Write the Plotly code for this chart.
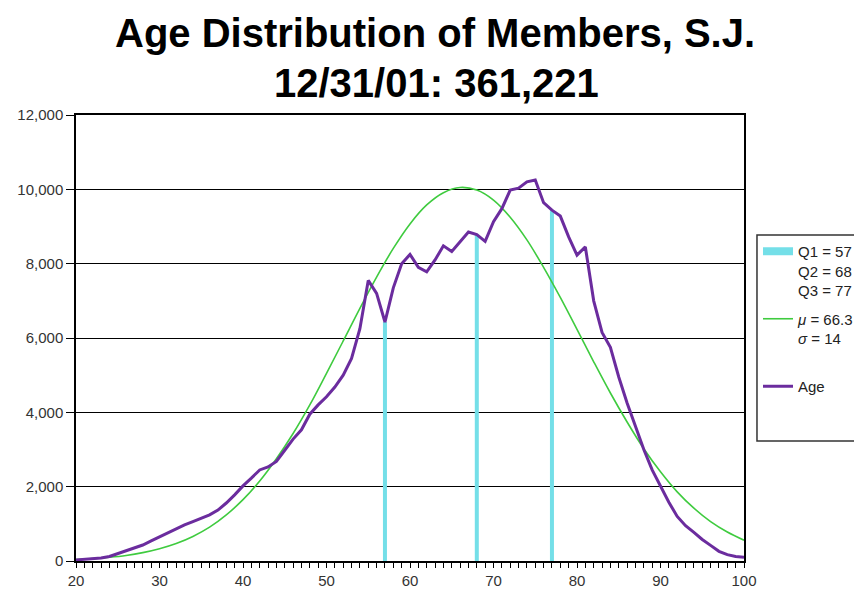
import plotly.graph_objects as go

# purple "Age" curve, one value per year of age 20..100
ages = list(range(20, 101))
age_counts = [
    30, 40, 55, 80, 120, 200, 290, 360, 430, 540,
    650, 770, 880, 970, 1060, 1150, 1240, 1370, 1560, 1780,
    2020, 2230, 2450, 2530, 2680, 2980, 3280, 3530, 3950, 4200,
    4420, 4680, 5000, 5450, 6250, 7550, 7200, 6430, 7350, 8000,
    8250, 7900, 7780, 8100, 8480, 8330, 8600, 8850, 8780, 8600,
    9130, 9480, 9980, 10030, 10200, 10250, 9640, 9440, 9280, 8720,
    8230, 8450, 7000, 6150, 5750, 4950, 4250, 3620, 3000, 2450,
    2000, 1580, 1200, 950, 770, 580, 420, 260, 170, 120,
    100,
]

# green fitted curve, read every two years
fit_ages = list(range(20, 101, 2))
fit_counts = [
    40, 65, 100, 150, 225, 330, 470, 660, 910, 1240,
    1650, 2150, 2750, 3430, 4200, 5050, 5920, 6800, 7640, 8410,
    9070, 9580, 9910, 10050, 9980, 9710, 9250, 8640, 7900, 7090,
    6230, 5360, 4520, 3740, 3020, 2400, 1860, 1420, 1060, 780,
    560,
]

quartile_ages = [57, 68, 77]

PURPLE = "#6B2C9E"
GREEN = "#3FCB3F"
CYAN = "#74DFE8"
FONT = "Arial, Liberation Sans, sans-serif"

# the page body adds an 8px offset, so margins are pulled in by 8
PLOT_L, PLOT_T, PLOT_W, PLOT_H = 76, 115, 669, 446


def px_x(x):
    return (x - PLOT_L) / PLOT_W


def px_y(y):
    return (PLOT_T + PLOT_H - y) / PLOT_H


# quartile bars go from 0 up to the Age curve
qx, qy = [], []
for a in quartile_ages:
    qx += [a, a, None]
    qy += [0, age_counts[ages.index(a)], None]

fig = go.Figure()
fig.add_trace(go.Scatter(
    x=qx, y=qy, mode="lines",
    line=dict(color=CYAN, width=4),
    showlegend=False, hoverinfo="skip",
))
# legend swatch for the quartiles (thicker, like the original key)
fig.add_trace(go.Scatter(
    x=[None], y=[None], mode="lines",
    line=dict(color=CYAN, width=8),
    name="Q1 = 57<br>Q2 = 68<br>Q3 = 77",
    legendgroup="q",
))
fig.add_trace(go.Scatter(
    x=fit_ages, y=fit_counts, mode="lines",
    line=dict(color=GREEN, width=1.6, shape="spline"),
    name="<i>μ</i> = 66.3<br><i>σ</i> = 14<br> ",
    legendgroup="m",
))
fig.add_trace(go.Scatter(
    x=ages, y=age_counts, mode="lines",
    line=dict(color=PURPLE, width=3),
    name="Age",
    legendgroup="a",
))

fig.add_annotation(text="<b>Age Distribution of Members, S.J.</b>",
                   xref="paper", yref="paper", x=px_x(436), y=px_y(33),
                   xanchor="center", yanchor="middle", showarrow=False,
                   font=dict(family=FONT, size=40, color="black"))
fig.add_annotation(text="<b>12/31/01: 361,221</b>",
                   xref="paper", yref="paper", x=px_x(437), y=px_y(83),
                   xanchor="center", yanchor="middle", showarrow=False,
                   font=dict(family=FONT, size=40, color="black"))

# legend frame (runs off the right edge like the original)
fig.add_shape(type="rect", xref="paper", yref="paper",
              x0=px_x(758), x1=1.3, y0=px_y(441), y1=px_y(235),
              line=dict(color="#333", width=1.5), fillcolor="white", layer="below")

fig.update_layout(
    width=862, height=595,
    margin=dict(l=PLOT_L - 8, r=862 - PLOT_L - PLOT_W + 8,
                t=PLOT_T - 8, b=595 - PLOT_T - PLOT_H + 8),
    paper_bgcolor="white", plot_bgcolor="white",
    font=dict(family=FONT, size=13, color="#222"),
    legend=dict(
        x=px_x(758), y=px_y(235),
        xanchor="left", yanchor="top",
        bgcolor="rgba(0,0,0,0)", borderwidth=0,
        font=dict(family=FONT, size=15, color="#222"),
        valign="top", tracegroupgap=6, traceorder="grouped",
    ),
)
fig.update_xaxes(
    range=[20, 100], tick0=20, dtick=10,
    ticks="outside", ticklen=5, tickcolor="black",
    minor=dict(dtick=1, ticks="outside", ticklen=5, tickcolor="black"),
    showline=True, mirror=True, linecolor="black", linewidth=1.5,
    showgrid=False, zeroline=False, automargin=False,
    tickfont=dict(family=FONT, size=15, color="#333"),
)
fig.update_yaxes(
    range=[0, 12000], dtick=2000, tickformat=",",
    ticks="outside", ticklen=8, tickcolor="black",
    showline=True, mirror=True, linecolor="black", linewidth=1.5,
    showgrid=True, gridcolor="black", gridwidth=1, zeroline=False,
    automargin=False,
    tickfont=dict(family=FONT, size=15, color="#333"),
)

fig.write_html("out.html")
